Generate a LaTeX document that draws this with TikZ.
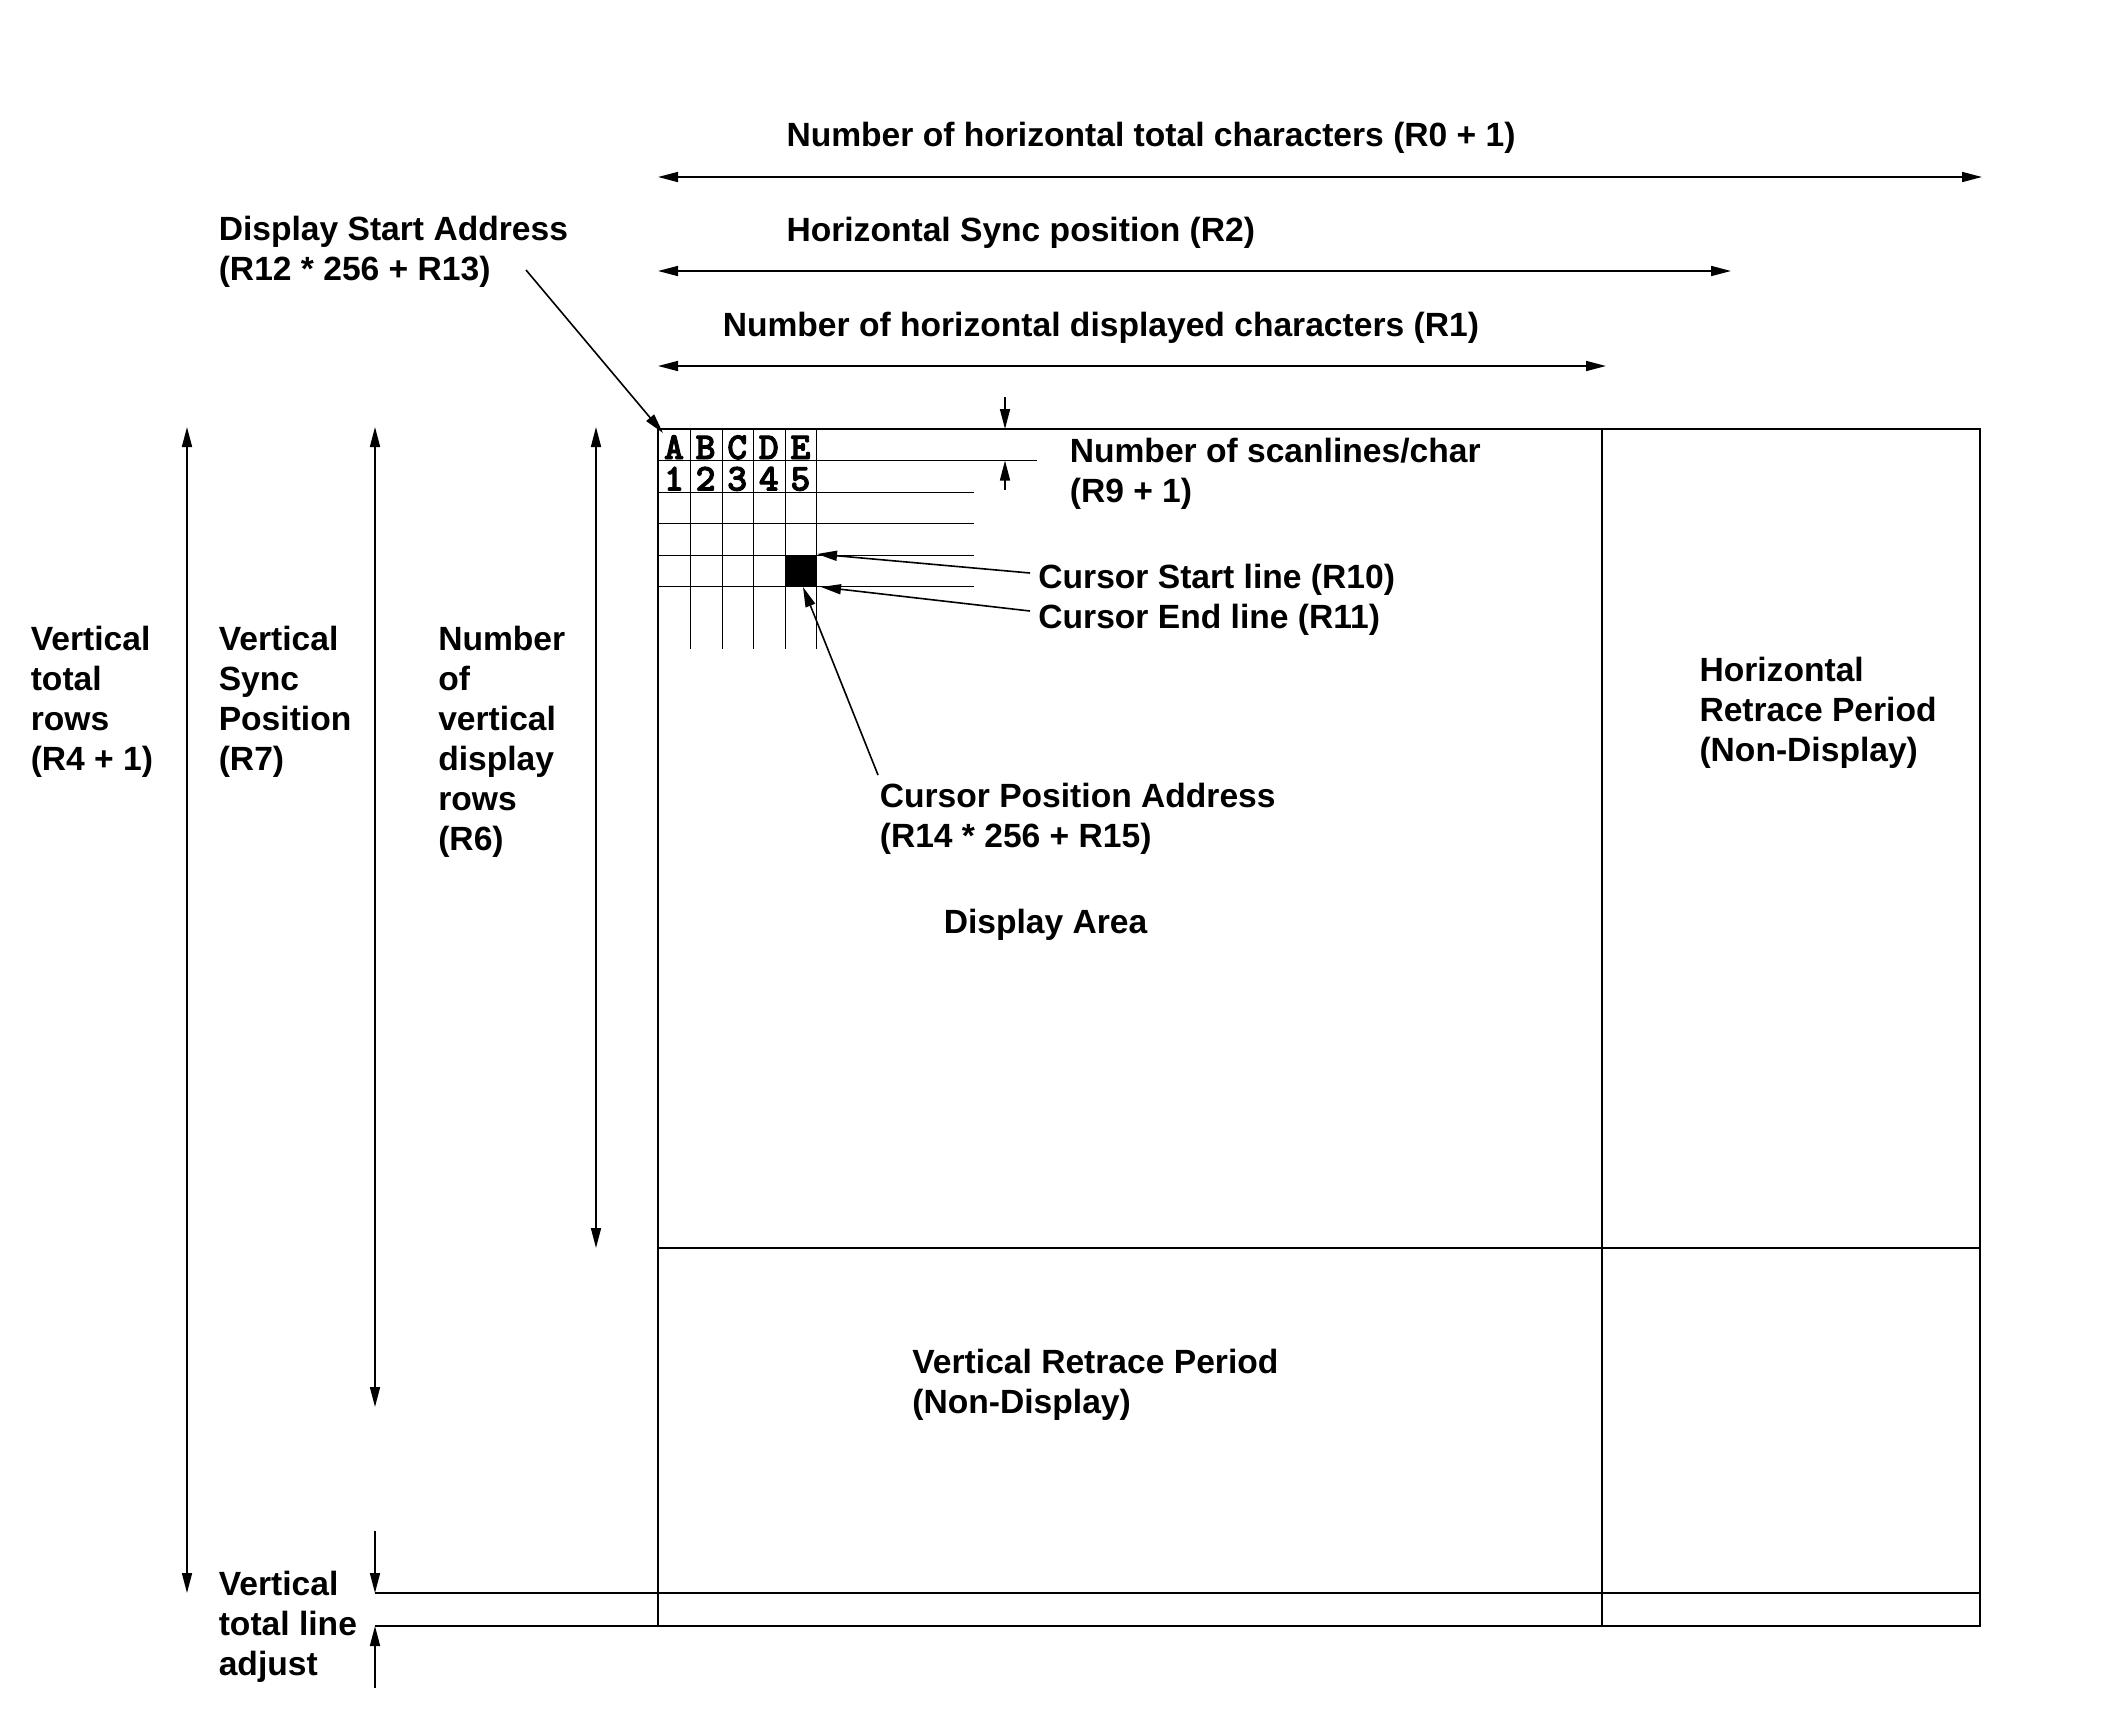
\documentclass[tikz,border=0pt]{standalone}
\usepackage{fontspec}
\setmainfont{Liberation Sans}
\newfontfamily\gridfont[FakeBold=2.5]{lmmonolt10-bold.otf}
\usetikzlibrary{arrows.meta}
\begin{document}
\begin{tikzpicture}[x=0.5pt,y=-0.5pt, line width=0.8pt,
  lbl/.style={font=\fontsize{16.8}{20}\selectfont\bfseries, inner sep=0pt, align=left, anchor=north west},
  dimline/.style={{Triangle[length=10pt,width=5pt]}-{Triangle[length=10pt,width=5pt]}},
  ptr/.style={-{Triangle[length=10pt,width=5pt]}},
  gridln/.style={line width=0.5pt},
  gl/.style={font=\gridfont\fontsize{19}{19}\selectfont, inner sep=0pt, anchor=base}]
\useasboundingbox (0,0) rectangle (2124,1719);

% ---- frame
\coordinate (TL) at (658,429);
\coordinate (BR) at (1980,1626);
\draw (TL) rectangle (BR);
\draw (1602,429) -- (1602,1626);
\draw (658,1248) -- (1980,1248);
\draw (375,1593) -- (1980,1593);
\draw (375,1626) -- (658,1626);

% ---- character grid
\fill (785,555) rectangle (816.5,586.5);
\foreach \x in {690.5,722,753.5,785,816.5} \draw[gridln] (\x,429) -- (\x,649);
\draw[gridln] (658,460.5) -- (1037,460.5);
\foreach \y in {492,523.5,555,586.5} \draw[gridln] (658,\y) -- (974,\y);
\foreach \c [count=\i from 0] in {A,B,C,D,E} \node[gl] (c\c) at (674+31.6*\i,459) {\c};
\foreach \c [count=\i from 0] in {1,2,3,4,5} \node[gl] (d\c) at (674+31.6*\i,490.5) {\c};

% ---- scanline arrows
\coordinate (sa1) at (1005,397); \coordinate (sa2) at (1005,429);
\coordinate (sb1) at (1005,490); \coordinate (sb2) at (1005,460.5);
\draw[ptr] (sa1) -- (sa2);
\draw[ptr] (sb1) -- (sb2);

% ---- horizontal dimension arrows
\coordinate (h0a) at (658,177); \coordinate (h0b) at (1982,177);
\coordinate (h2a) at (658,271); \coordinate (h2b) at (1731,271);
\coordinate (h1a) at (658,366); \coordinate (h1b) at (1606,366);
\draw[dimline] (h0a) -- (h0b);
\draw[dimline] (h2a) -- (h2b);
\draw[dimline] (h1a) -- (h1b);

% ---- vertical dimension arrows
\coordinate (v4a) at (187,427); \coordinate (v4b) at (187,1593);
\coordinate (v7a) at (375,427); \coordinate (v7b) at (375,1407);
\coordinate (v6a) at (596,427); \coordinate (v6b) at (596,1248);
\draw[dimline] (v4a) -- (v4b);
\draw[dimline] (v7a) -- (v7b);
\draw[dimline] (v6a) -- (v6b);
\coordinate (adj1) at (375,1531); \coordinate (adj2) at (375,1593);
\coordinate (adj3) at (375,1688); \coordinate (adj4) at (375,1626);
\draw[ptr] (adj1) -- (adj2);
\draw[ptr] (adj3) -- (adj4);

% ---- labels
\node[lbl] (htot) at (785.7,121.5) {Number of horizontal total characters (R0 + 1)};
\node[lbl] (hsync) at (785.7,216.5) {Horizontal Sync position (R2)};
\node[lbl] (hdisp) at (722,311) {Number of horizontal displayed characters (R1)};
\node[lbl] (dsa) at (218,215) {Display Start Address\\(R12 * 256 + R13)};
\node[lbl] (scan) at (1069,437) {Number of scanlines/char\\(R9 + 1)};
\node[lbl] (cs) at (1037.6,563) {Cursor Start line (R10)};
\node[lbl] (ce) at (1037.6,603.5) {Cursor End line (R11)};
\node[lbl] (cpa) at (879,782.5) {Cursor Position Address\\(R14 * 256 + R15)};
\node[lbl] (da) at (943,908.5) {Display Area};
\node[lbl] (hrp) at (1698.7,656.5) {Horizontal\\Retrace Period\\(Non-Display)};
\node[lbl] (vrp) at (911.6,1348.5) {Vertical Retrace Period\\(Non-Display)};
\node[lbl] (vtr) at (30,625.5) {Vertical\\total\\rows\\(R4 + 1)};
\node[lbl] (vsp) at (218,625.5) {Vertical\\Sync\\Position\\(R7)};
\node[lbl] (nvd) at (437.5,625.5) {Number\\of\\vertical\\display\\rows\\(R6)};
\node[lbl] (vtla) at (218,1570.5) {Vertical\\total line\\adjust};

% ---- pointers
\coordinate (dsaS) at (526,270); \coordinate (dsaT) at (663,433);
\draw[ptr] (dsaS) -- (dsaT);
\coordinate (csS) at (1030,573); \coordinate (csT) at (817,554);
\draw[ptr] (csS) -- (csT);
\coordinate (ceS) at (1030,611); \coordinate (ceT) at (821,587);
\draw[ptr] (ceS) -- (ceT);
\coordinate (cpS) at (878,775); \coordinate (cpT) at (803,587);
\draw[ptr] (cpS) -- (cpT);
\end{tikzpicture}
\end{document}
